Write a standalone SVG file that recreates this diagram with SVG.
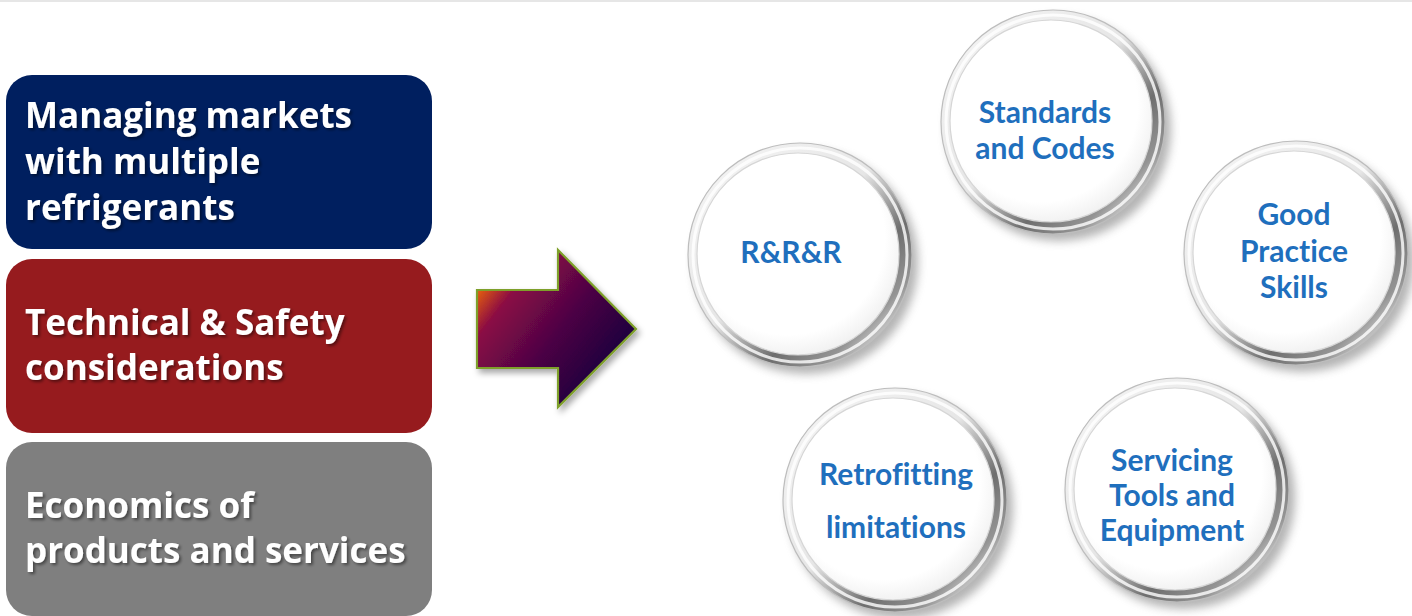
<svg xmlns="http://www.w3.org/2000/svg" xmlns:xlink="http://www.w3.org/1999/xlink" width="1412" height="616" viewBox="0 0 1412 616">
<defs>
<style>
.boxtxt{font-family:"Open Sans",Lato,"Liberation Sans",sans-serif;font-weight:700;font-size:35px;fill:#ffffff;filter:url(#tshadow);font-variant-ligatures:none}
.ctxt{font-family:Lato,"Open Sans","Liberation Sans",sans-serif;font-weight:700;font-size:30px;fill:#1f6fbd;text-anchor:middle;font-variant-ligatures:none}
</style>
<filter id="tshadow" x="-10%" y="-30%" width="120%" height="160%">
<feDropShadow dx="2" dy="2" stdDeviation="1.5" flood-color="#000" flood-opacity="0.45"/>
</filter>
<filter id="blur" x="-30%" y="-30%" width="160%" height="160%">
<feGaussianBlur stdDeviation="5"/>
</filter>
<filter id="ashadow" x="-20%" y="-20%" width="140%" height="140%">
<feDropShadow dx="3" dy="4" stdDeviation="3" flood-color="#000" flood-opacity="0.35"/>
</filter>
<linearGradient id="arrowGrad" x1="0" y1="0.25" x2="0.85" y2="0.9">
<stop offset="0" stop-color="#e8620c"/>
<stop offset="0.18" stop-color="#8a0a44"/>
<stop offset="0.55" stop-color="#4a0444"/>
<stop offset="1" stop-color="#10003c"/>
</linearGradient>
<linearGradient id="ringGrad" x1="0.15" y1="0.1" x2="0.9" y2="0.85">
<stop offset="0" stop-color="#f2f2f2"/>
<stop offset="0.45" stop-color="#e6e6e6"/>
<stop offset="0.72" stop-color="#6e6e6e"/>
<stop offset="0.9" stop-color="#949494"/>
<stop offset="1" stop-color="#d4d4d4"/>
</linearGradient>
<radialGradient id="innerGrad" cx="0.45" cy="0.42" r="0.6">
<stop offset="0" stop-color="#ffffff"/>
<stop offset="0.8" stop-color="#ffffff"/>
<stop offset="1" stop-color="#f0f0f0"/>
</radialGradient>
<g id="ring">
<circle cx="6" cy="7" r="112" fill="#777" opacity="0.55" filter="url(#blur)"/>
<circle cx="0" cy="0" r="112" fill="url(#ringGrad)" stroke="#bdbdbd" stroke-width="1.2"/>
<circle cx="0" cy="0" r="107" fill="none" stroke="#ffffff" stroke-width="3" opacity="0.8"/>
<circle cx="-2" cy="-1" r="101" fill="url(#innerGrad)" stroke="#d6d6d6" stroke-width="1.2"/>
</g>
</defs>
<rect x="0" y="0" width="1412" height="616" fill="#ffffff"/>
<rect x="0" y="0" width="1412" height="2" fill="#e6e6e6"/>

<g id="box-managing">
<rect x="6" y="75" width="426" height="174" rx="26" fill="#001f5f"/>
<text class="boxtxt"><tspan x="25" y="128">Managing markets</tspan><tspan x="25" y="174">with multiple</tspan><tspan x="25" y="220">refrigerants</tspan></text>
</g>
<g id="box-technical">
<rect x="6" y="259" width="426" height="174" rx="26" fill="#961b1e"/>
<text class="boxtxt"><tspan x="25" y="335">Technical &amp; Safety</tspan><tspan x="25" y="380">considerations</tspan></text>
</g>
<g id="box-economics">
<rect x="6" y="442" width="426" height="174" rx="26" fill="#7f7f7f"/>
<text class="boxtxt"><tspan x="25" y="518">Economics of</tspan><tspan x="25" y="563">products and services</tspan></text>
</g>

<g id="connectors">
<path d="M477,290 L558,290 L558,250 L636,329 L558,407 L558,368 L477,368 Z" fill="url(#arrowGrad)" stroke="#7ea02a" stroke-width="2.2" stroke-linejoin="miter" filter="url(#ashadow)"/>
</g>

<g id="node-rrr">
<use xlink:href="#ring" href="#ring" transform="translate(800,255)"/>
<text class="ctxt" x="791" y="263">R&amp;R&amp;R</text>
</g>
<g id="node-standards">
<use xlink:href="#ring" href="#ring" transform="translate(1053,122)"/>
<text class="ctxt"><tspan x="1045" y="123">Standards</tspan><tspan x="1045" y="159">and Codes</tspan></text>
</g>
<g id="node-goodpractice">
<use xlink:href="#ring" href="#ring" transform="translate(1296,253)"/>
<text class="ctxt"><tspan x="1294" y="225">Good</tspan><tspan x="1294" y="262">Practice</tspan><tspan x="1294" y="298">Skills</tspan></text>
</g>
<g id="node-retrofitting">
<use xlink:href="#ring" href="#ring" transform="translate(895,500)"/>
<text class="ctxt"><tspan x="896" y="485">Retrofitting</tspan><tspan x="896" y="538">limitations</tspan></text>
</g>
<g id="node-servicing">
<use xlink:href="#ring" href="#ring" transform="translate(1177,490)"/>
<text class="ctxt"><tspan x="1172" y="471">Servicing</tspan><tspan x="1172" y="506">Tools and</tspan><tspan x="1172" y="541">Equipment</tspan></text>
</g>
</svg>
